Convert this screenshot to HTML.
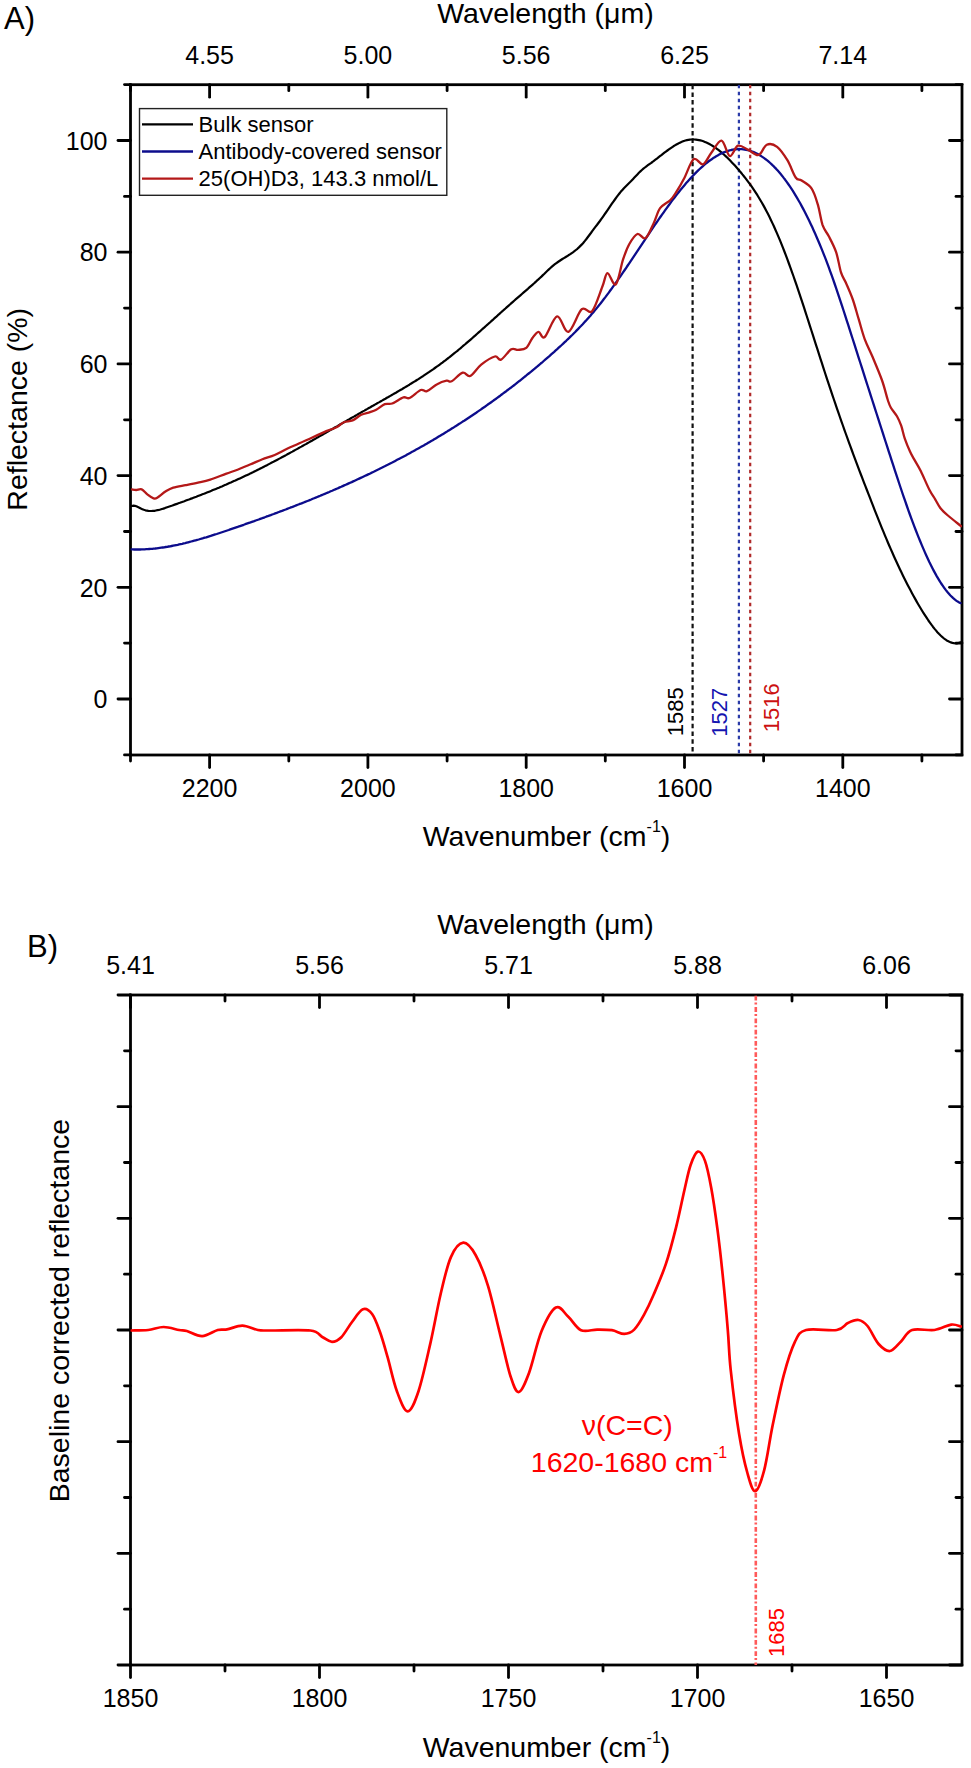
<!DOCTYPE html>
<html><head><meta charset="utf-8"><style>
html,body{margin:0;padding:0;background:#fff;}
svg{display:block;font-family:"Liberation Sans", sans-serif;}
</style></head><body>
<svg width="971" height="1768" viewBox="0 0 971 1768">
<defs>
<clipPath id="clipA"><rect x="130.5" y="84.7" width="831.5" height="670.3"/></clipPath>
<clipPath id="clipB"><rect x="130.5" y="995.0" width="831.5" height="670.0"/></clipPath>
</defs>
<rect width="971" height="1768" fill="#fff"/>
<rect x="130.5" y="84.7" width="831.5" height="670.3" fill="none" stroke="#000" stroke-width="2.8"/>
<line x1="130.5" y1="755.0" x2="130.5" y2="761.0" stroke="#000" stroke-width="2.8" stroke-linecap="round"/>
<line x1="130.5" y1="84.7" x2="130.5" y2="90.7" stroke="#000" stroke-width="2.8" stroke-linecap="round"/>
<line x1="209.6" y1="755.0" x2="209.6" y2="767.5" stroke="#000" stroke-width="2.8" stroke-linecap="round"/>
<line x1="209.6" y1="84.7" x2="209.6" y2="97.2" stroke="#000" stroke-width="2.8" stroke-linecap="round"/>
<line x1="288.8" y1="755.0" x2="288.8" y2="761.0" stroke="#000" stroke-width="2.8" stroke-linecap="round"/>
<line x1="288.8" y1="84.7" x2="288.8" y2="90.7" stroke="#000" stroke-width="2.8" stroke-linecap="round"/>
<line x1="367.9" y1="755.0" x2="367.9" y2="767.5" stroke="#000" stroke-width="2.8" stroke-linecap="round"/>
<line x1="367.9" y1="84.7" x2="367.9" y2="97.2" stroke="#000" stroke-width="2.8" stroke-linecap="round"/>
<line x1="447.1" y1="755.0" x2="447.1" y2="761.0" stroke="#000" stroke-width="2.8" stroke-linecap="round"/>
<line x1="447.1" y1="84.7" x2="447.1" y2="90.7" stroke="#000" stroke-width="2.8" stroke-linecap="round"/>
<line x1="526.2" y1="755.0" x2="526.2" y2="767.5" stroke="#000" stroke-width="2.8" stroke-linecap="round"/>
<line x1="526.2" y1="84.7" x2="526.2" y2="97.2" stroke="#000" stroke-width="2.8" stroke-linecap="round"/>
<line x1="605.3" y1="755.0" x2="605.3" y2="761.0" stroke="#000" stroke-width="2.8" stroke-linecap="round"/>
<line x1="605.3" y1="84.7" x2="605.3" y2="90.7" stroke="#000" stroke-width="2.8" stroke-linecap="round"/>
<line x1="684.5" y1="755.0" x2="684.5" y2="767.5" stroke="#000" stroke-width="2.8" stroke-linecap="round"/>
<line x1="684.5" y1="84.7" x2="684.5" y2="97.2" stroke="#000" stroke-width="2.8" stroke-linecap="round"/>
<line x1="763.6" y1="755.0" x2="763.6" y2="761.0" stroke="#000" stroke-width="2.8" stroke-linecap="round"/>
<line x1="763.6" y1="84.7" x2="763.6" y2="90.7" stroke="#000" stroke-width="2.8" stroke-linecap="round"/>
<line x1="842.8" y1="755.0" x2="842.8" y2="767.5" stroke="#000" stroke-width="2.8" stroke-linecap="round"/>
<line x1="842.8" y1="84.7" x2="842.8" y2="97.2" stroke="#000" stroke-width="2.8" stroke-linecap="round"/>
<line x1="921.9" y1="755.0" x2="921.9" y2="761.0" stroke="#000" stroke-width="2.8" stroke-linecap="round"/>
<line x1="921.9" y1="84.7" x2="921.9" y2="90.7" stroke="#000" stroke-width="2.8" stroke-linecap="round"/>
<line x1="124.5" y1="754.9" x2="130.5" y2="754.9" stroke="#000" stroke-width="2.8" stroke-linecap="round"/>
<line x1="956.0" y1="754.9" x2="962.0" y2="754.9" stroke="#000" stroke-width="2.8" stroke-linecap="round"/>
<line x1="118.0" y1="699.0" x2="130.5" y2="699.0" stroke="#000" stroke-width="2.8" stroke-linecap="round"/>
<line x1="949.5" y1="699.0" x2="962.0" y2="699.0" stroke="#000" stroke-width="2.8" stroke-linecap="round"/>
<line x1="124.5" y1="643.1" x2="130.5" y2="643.1" stroke="#000" stroke-width="2.8" stroke-linecap="round"/>
<line x1="956.0" y1="643.1" x2="962.0" y2="643.1" stroke="#000" stroke-width="2.8" stroke-linecap="round"/>
<line x1="118.0" y1="587.3" x2="130.5" y2="587.3" stroke="#000" stroke-width="2.8" stroke-linecap="round"/>
<line x1="949.5" y1="587.3" x2="962.0" y2="587.3" stroke="#000" stroke-width="2.8" stroke-linecap="round"/>
<line x1="124.5" y1="531.5" x2="130.5" y2="531.5" stroke="#000" stroke-width="2.8" stroke-linecap="round"/>
<line x1="956.0" y1="531.5" x2="962.0" y2="531.5" stroke="#000" stroke-width="2.8" stroke-linecap="round"/>
<line x1="118.0" y1="475.6" x2="130.5" y2="475.6" stroke="#000" stroke-width="2.8" stroke-linecap="round"/>
<line x1="949.5" y1="475.6" x2="962.0" y2="475.6" stroke="#000" stroke-width="2.8" stroke-linecap="round"/>
<line x1="124.5" y1="419.8" x2="130.5" y2="419.8" stroke="#000" stroke-width="2.8" stroke-linecap="round"/>
<line x1="956.0" y1="419.8" x2="962.0" y2="419.8" stroke="#000" stroke-width="2.8" stroke-linecap="round"/>
<line x1="118.0" y1="363.9" x2="130.5" y2="363.9" stroke="#000" stroke-width="2.8" stroke-linecap="round"/>
<line x1="949.5" y1="363.9" x2="962.0" y2="363.9" stroke="#000" stroke-width="2.8" stroke-linecap="round"/>
<line x1="124.5" y1="308.1" x2="130.5" y2="308.1" stroke="#000" stroke-width="2.8" stroke-linecap="round"/>
<line x1="956.0" y1="308.1" x2="962.0" y2="308.1" stroke="#000" stroke-width="2.8" stroke-linecap="round"/>
<line x1="118.0" y1="252.2" x2="130.5" y2="252.2" stroke="#000" stroke-width="2.8" stroke-linecap="round"/>
<line x1="949.5" y1="252.2" x2="962.0" y2="252.2" stroke="#000" stroke-width="2.8" stroke-linecap="round"/>
<line x1="124.5" y1="196.4" x2="130.5" y2="196.4" stroke="#000" stroke-width="2.8" stroke-linecap="round"/>
<line x1="956.0" y1="196.4" x2="962.0" y2="196.4" stroke="#000" stroke-width="2.8" stroke-linecap="round"/>
<line x1="118.0" y1="140.5" x2="130.5" y2="140.5" stroke="#000" stroke-width="2.8" stroke-linecap="round"/>
<line x1="949.5" y1="140.5" x2="962.0" y2="140.5" stroke="#000" stroke-width="2.8" stroke-linecap="round"/>
<line x1="124.5" y1="84.6" x2="130.5" y2="84.6" stroke="#000" stroke-width="2.8" stroke-linecap="round"/>
<line x1="956.0" y1="84.6" x2="962.0" y2="84.6" stroke="#000" stroke-width="2.8" stroke-linecap="round"/>
<text x="209.6" y="797.0" font-size="25" text-anchor="middle" fill="#000" >2200</text>
<text x="367.9" y="797.0" font-size="25" text-anchor="middle" fill="#000" >2000</text>
<text x="526.2" y="797.0" font-size="25" text-anchor="middle" fill="#000" >1800</text>
<text x="684.5" y="797.0" font-size="25" text-anchor="middle" fill="#000" >1600</text>
<text x="842.8" y="797.0" font-size="25" text-anchor="middle" fill="#000" >1400</text>
<text x="209.6" y="63.5" font-size="25" text-anchor="middle" fill="#000" >4.55</text>
<text x="367.9" y="63.5" font-size="25" text-anchor="middle" fill="#000" >5.00</text>
<text x="526.2" y="63.5" font-size="25" text-anchor="middle" fill="#000" >5.56</text>
<text x="684.5" y="63.5" font-size="25" text-anchor="middle" fill="#000" >6.25</text>
<text x="842.8" y="63.5" font-size="25" text-anchor="middle" fill="#000" >7.14</text>
<text x="107.5" y="708.2" font-size="25" text-anchor="end" fill="#000" >0</text>
<text x="107.5" y="596.5" font-size="25" text-anchor="end" fill="#000" >20</text>
<text x="107.5" y="484.8" font-size="25" text-anchor="end" fill="#000" >40</text>
<text x="107.5" y="373.1" font-size="25" text-anchor="end" fill="#000" >60</text>
<text x="107.5" y="261.4" font-size="25" text-anchor="end" fill="#000" >80</text>
<text x="107.5" y="149.7" font-size="25" text-anchor="end" fill="#000" >100</text>
<text x="545.5" y="22.8" font-size="28.5" text-anchor="middle" fill="#000" >Wavelength (μm)</text>
<text x="546.5" y="846.3" font-size="28.5" text-anchor="middle" fill="#000" >Wavenumber (cm<tspan font-size="16" dy="-14">-1</tspan><tspan dy="14">)</tspan></text>
<text x="0" y="0" font-size="28.5" text-anchor="middle" transform="translate(26.9,409.3) rotate(-90)">Reflectance (%)</text>
<text x="4.0" y="28.8" font-size="31" text-anchor="start" fill="#000" >A)</text>
<rect x="139.5" y="108.6" width="307.3" height="86.7" fill="#fff" stroke="#222" stroke-width="1.4"/>
<line x1="142.0" y1="124.4" x2="193.0" y2="124.4" stroke="#000" stroke-width="2.4" />
<text x="198.6" y="131.8" font-size="22" text-anchor="start" fill="#000" >Bulk sensor</text>
<line x1="142.0" y1="151.5" x2="193.0" y2="151.5" stroke="#0c0c8c" stroke-width="2.4" />
<text x="198.6" y="158.9" font-size="22" text-anchor="start" fill="#000" >Antibody-covered sensor</text>
<line x1="142.0" y1="178.6" x2="193.0" y2="178.6" stroke="#b41818" stroke-width="2.4" />
<text x="198.6" y="186.0" font-size="22" text-anchor="start" fill="#000" >25(OH)D3, 143.3 nmol/L</text>
<g clip-path="url(#clipA)">
<line x1="692.6" y1="84.7" x2="692.6" y2="755.0" stroke="#111" stroke-width="2.2" stroke-dasharray="4.5,3.2"/>
<line x1="738.9" y1="84.7" x2="738.9" y2="755.0" stroke="#2b3ba8" stroke-width="2.2" stroke-dasharray="3.5,3.5"/>
<line x1="750.2" y1="84.7" x2="750.2" y2="755.0" stroke="#b02a2a" stroke-width="2.2" stroke-dasharray="3.5,3.5"/>
</g>
<text x="0" y="0" font-size="22" fill="#000" transform="translate(683.3,736.2) rotate(-90)">1585</text>
<text x="0" y="0" font-size="22" fill="#1515b0" transform="translate(727.3,736.8) rotate(-90)">1527</text>
<text x="0" y="0" font-size="22" fill="#cc1111" transform="translate(779.2,732.2) rotate(-90)">1516</text>
<g clip-path="url(#clipA)" fill="none" stroke-linejoin="round" stroke-linecap="round">
<path d="M131.9,506.0 L133.4,505.7 L134.9,505.9 L136.4,506.3 L137.9,507.0 L139.4,507.7 L140.9,508.5 L142.4,509.2 L143.9,509.8 L145.4,510.3 L146.9,510.6 L148.4,510.9 L149.9,511.0 L151.4,511.0 L152.9,510.9 L154.4,510.8 L155.9,510.5 L157.4,510.2 L158.9,509.9 L160.4,509.5 L161.9,509.0 L163.4,508.6 L164.9,508.1 L166.4,507.5 L167.9,507.0 L169.4,506.5 L170.9,506.0 L172.4,505.5 L173.9,504.9 L175.4,504.4 L176.9,503.9 L178.4,503.3 L179.9,502.8 L181.4,502.2 L182.9,501.7 L184.4,501.2 L185.9,500.6 L187.4,500.0 L188.9,499.5 L190.4,498.9 L191.9,498.4 L193.4,497.8 L194.9,497.2 L196.4,496.7 L197.9,496.1 L199.4,495.5 L200.9,494.9 L202.4,494.3 L203.9,493.8 L205.4,493.2 L206.9,492.6 L208.4,492.0 L209.9,491.4 L211.4,490.8 L212.9,490.1 L214.4,489.5 L215.9,488.9 L217.4,488.3 L218.9,487.7 L220.4,487.0 L221.9,486.4 L223.4,485.7 L224.9,485.1 L226.4,484.5 L227.9,483.8 L229.4,483.1 L230.9,482.5 L232.4,481.8 L233.9,481.1 L235.4,480.5 L236.9,479.8 L238.4,479.1 L239.9,478.4 L241.4,477.7 L242.9,477.0 L244.4,476.3 L245.9,475.6 L247.4,474.9 L248.9,474.2 L250.4,473.4 L251.9,472.7 L253.4,472.0 L254.9,471.2 L256.4,470.5 L257.9,469.7 L259.4,469.0 L260.9,468.2 L262.4,467.5 L263.9,466.7 L265.4,465.9 L266.9,465.2 L268.4,464.4 L269.9,463.6 L271.4,462.8 L272.9,462.1 L274.4,461.3 L275.9,460.5 L277.4,459.7 L278.9,458.9 L280.4,458.1 L281.9,457.3 L283.4,456.5 L284.9,455.7 L286.4,454.9 L287.9,454.0 L289.4,453.2 L290.9,452.4 L292.4,451.6 L293.9,450.7 L295.4,449.9 L296.9,449.1 L298.4,448.3 L299.9,447.4 L301.4,446.6 L302.9,445.7 L304.4,444.9 L305.9,444.1 L307.4,443.2 L308.9,442.4 L310.4,441.5 L311.9,440.7 L313.4,439.8 L314.9,439.0 L316.4,438.1 L317.9,437.3 L319.4,436.4 L320.9,435.5 L322.4,434.7 L323.9,433.8 L325.4,433.0 L326.9,432.1 L328.4,431.2 L329.9,430.4 L331.4,429.5 L332.9,428.7 L334.4,427.8 L335.9,426.9 L337.4,426.1 L338.9,425.2 L340.4,424.3 L341.9,423.5 L343.4,422.6 L344.9,421.7 L346.4,420.9 L347.9,420.0 L349.4,419.2 L350.9,418.3 L352.4,417.4 L353.9,416.6 L355.4,415.7 L356.9,414.9 L358.4,414.0 L359.9,413.1 L361.4,412.3 L362.9,411.4 L364.4,410.6 L365.9,409.7 L367.4,408.9 L368.9,408.0 L370.4,407.2 L371.9,406.3 L373.4,405.5 L374.9,404.6 L376.4,403.8 L377.9,402.9 L379.4,402.1 L380.9,401.2 L382.4,400.4 L383.9,399.5 L385.4,398.7 L386.9,397.8 L388.4,397.0 L389.9,396.1 L391.4,395.3 L392.9,394.4 L394.4,393.5 L395.9,392.7 L397.4,391.8 L398.9,390.9 L400.4,390.0 L401.9,389.2 L403.4,388.3 L404.9,387.4 L406.4,386.5 L407.9,385.6 L409.4,384.7 L410.9,383.7 L412.4,382.8 L413.9,381.9 L415.4,381.0 L416.9,380.0 L418.4,379.1 L419.9,378.1 L421.4,377.1 L422.9,376.2 L424.4,375.2 L425.9,374.2 L427.4,373.2 L428.9,372.2 L430.4,371.1 L431.9,370.1 L433.4,369.1 L434.9,368.0 L436.4,366.9 L437.9,365.9 L439.4,364.8 L440.9,363.7 L442.4,362.6 L443.9,361.4 L445.4,360.3 L446.9,359.1 L448.4,358.0 L449.9,356.8 L451.4,355.6 L452.9,354.4 L454.4,353.2 L455.9,352.0 L457.4,350.8 L458.9,349.5 L460.4,348.3 L461.9,347.0 L463.4,345.7 L464.9,344.5 L466.4,343.2 L467.9,341.9 L469.4,340.6 L470.9,339.3 L472.4,338.0 L473.9,336.7 L475.4,335.4 L476.9,334.0 L478.4,332.7 L479.9,331.4 L481.4,330.0 L482.9,328.7 L484.4,327.4 L485.9,326.0 L487.4,324.7 L488.9,323.3 L490.4,322.0 L491.9,320.6 L493.4,319.3 L494.9,317.9 L496.4,316.6 L497.9,315.2 L499.4,313.9 L500.9,312.5 L502.4,311.2 L503.9,309.8 L505.4,308.5 L506.9,307.1 L508.4,305.8 L509.9,304.5 L511.4,303.1 L512.9,301.8 L514.4,300.5 L515.9,299.2 L517.4,297.9 L518.9,296.6 L520.4,295.3 L521.9,294.0 L523.4,292.7 L524.9,291.4 L526.4,290.1 L527.9,288.8 L529.4,287.4 L530.9,286.1 L532.4,284.8 L533.9,283.5 L535.4,282.1 L536.9,280.7 L538.4,279.4 L539.9,278.0 L541.4,276.6 L542.9,275.1 L544.4,273.7 L545.9,272.2 L547.4,270.8 L548.9,269.4 L550.4,268.0 L551.9,266.7 L553.4,265.4 L554.9,264.2 L556.4,263.1 L557.9,262.0 L559.4,261.0 L560.9,260.0 L562.4,259.0 L563.9,258.1 L565.4,257.2 L566.9,256.3 L568.4,255.3 L569.9,254.4 L571.4,253.3 L572.9,252.3 L574.4,251.2 L575.9,250.0 L577.4,248.8 L578.9,247.4 L580.4,245.9 L581.9,244.4 L583.4,242.7 L584.9,240.9 L586.4,239.0 L587.9,237.0 L589.4,235.0 L590.9,233.0 L592.4,230.9 L593.9,228.9 L595.4,226.9 L596.9,225.0 L598.4,223.0 L599.9,221.0 L601.4,218.9 L602.9,216.8 L604.4,214.6 L605.9,212.5 L607.4,210.3 L608.9,208.1 L610.4,205.9 L611.9,203.7 L613.4,201.6 L614.9,199.5 L616.4,197.4 L617.9,195.4 L619.4,193.5 L620.9,191.6 L622.4,189.9 L623.9,188.2 L625.4,186.7 L626.9,185.2 L628.4,183.7 L629.9,182.3 L631.4,180.8 L632.9,179.2 L634.4,177.6 L635.9,176.0 L637.4,174.4 L638.9,172.8 L640.4,171.4 L641.9,170.0 L643.4,168.7 L644.9,167.5 L646.4,166.3 L647.9,165.2 L649.4,164.1 L650.9,163.1 L652.4,162.0 L653.9,160.8 L655.4,159.7 L656.9,158.6 L658.4,157.4 L659.9,156.2 L661.4,155.1 L662.9,153.9 L664.4,152.7 L665.9,151.6 L667.4,150.5 L668.9,149.4 L670.4,148.3 L671.9,147.3 L673.4,146.3 L674.9,145.4 L676.4,144.5 L677.9,143.7 L679.4,142.9 L680.9,142.2 L682.4,141.6 L683.9,141.0 L685.4,140.5 L686.9,140.1 L688.4,139.8 L689.9,139.6 L691.4,139.5 L692.9,139.4 L694.4,139.5 L695.9,139.6 L697.4,139.8 L698.9,140.1 L700.4,140.4 L701.9,140.8 L703.4,141.3 L704.9,141.9 L706.4,142.5 L707.9,143.2 L709.4,144.0 L710.9,144.9 L712.4,145.8 L713.9,146.7 L715.4,147.7 L716.9,148.8 L718.4,149.9 L719.9,151.1 L721.4,152.4 L722.9,153.7 L724.4,155.0 L725.9,156.4 L727.4,157.8 L728.9,159.3 L730.4,160.8 L731.9,162.4 L733.4,164.0 L734.9,165.6 L736.4,167.3 L737.9,169.0 L739.4,170.8 L740.9,172.5 L742.4,174.4 L743.9,176.2 L745.4,178.1 L746.9,180.1 L748.4,182.1 L749.9,184.1 L751.4,186.2 L752.9,188.4 L754.4,190.6 L755.9,192.9 L757.4,195.2 L758.9,197.7 L760.4,200.2 L761.9,202.7 L763.4,205.4 L764.9,208.1 L766.4,210.9 L767.9,213.8 L769.4,216.8 L770.9,219.9 L772.4,223.1 L773.9,226.3 L775.4,229.7 L776.9,233.1 L778.4,236.6 L779.9,240.2 L781.4,243.9 L782.9,247.7 L784.4,251.5 L785.9,255.4 L787.4,259.4 L788.9,263.5 L790.4,267.6 L791.9,271.8 L793.4,276.0 L794.9,280.3 L796.4,284.7 L797.9,289.1 L799.4,293.6 L800.9,298.1 L802.4,302.6 L803.9,307.2 L805.4,311.8 L806.9,316.5 L808.4,321.1 L809.9,325.8 L811.4,330.5 L812.9,335.2 L814.4,339.9 L815.9,344.6 L817.4,349.2 L818.9,353.9 L820.4,358.6 L821.9,363.2 L823.4,367.9 L824.9,372.5 L826.4,377.1 L827.9,381.6 L829.4,386.1 L830.9,390.6 L832.4,395.1 L833.9,399.5 L835.4,403.9 L836.9,408.3 L838.4,412.6 L839.9,417.0 L841.4,421.3 L842.9,425.5 L844.4,429.8 L845.9,434.0 L847.4,438.1 L848.9,442.3 L850.4,446.4 L851.9,450.5 L853.4,454.6 L854.9,458.6 L856.4,462.6 L857.9,466.6 L859.4,470.6 L860.9,474.5 L862.4,478.4 L863.9,482.3 L865.4,486.1 L866.9,490.0 L868.4,493.8 L869.9,497.7 L871.4,501.6 L872.9,505.4 L874.4,509.3 L875.9,513.1 L877.4,516.9 L878.9,520.6 L880.4,524.4 L881.9,528.1 L883.4,531.7 L884.9,535.4 L886.4,538.9 L887.9,542.5 L889.4,546.0 L890.9,549.4 L892.4,552.8 L893.9,556.2 L895.4,559.5 L896.9,562.8 L898.4,566.0 L899.9,569.2 L901.4,572.3 L902.9,575.4 L904.4,578.4 L905.9,581.4 L907.4,584.4 L908.9,587.3 L910.4,590.1 L911.9,592.9 L913.4,595.7 L914.9,598.4 L916.4,601.1 L917.9,603.7 L919.4,606.2 L920.9,608.7 L922.4,611.2 L923.9,613.6 L925.4,615.9 L926.9,618.2 L928.4,620.5 L929.9,622.6 L931.4,624.7 L932.9,626.7 L934.4,628.6 L935.9,630.4 L937.4,632.2 L938.9,633.8 L940.4,635.3 L941.9,636.7 L943.4,638.0 L944.9,639.2 L946.4,640.2 L947.9,641.1 L949.4,641.8 L950.9,642.4 L952.4,642.9 L953.9,643.2 L955.4,643.3 L956.9,643.3 L958.4,643.0 L959.9,642.6 L960.6,642.4" stroke="#000" stroke-width="2.2"/>
<path d="M131.2,549.4 L132.7,549.4 L134.2,549.5 L135.7,549.5 L137.2,549.5 L138.7,549.5 L140.2,549.5 L141.7,549.4 L143.2,549.4 L144.7,549.3 L146.2,549.2 L147.7,549.1 L149.2,549.0 L150.7,548.9 L152.2,548.8 L153.7,548.6 L155.2,548.5 L156.7,548.3 L158.2,548.1 L159.7,547.9 L161.2,547.7 L162.7,547.5 L164.2,547.3 L165.7,547.0 L167.2,546.8 L168.7,546.5 L170.2,546.3 L171.7,546.0 L173.2,545.7 L174.7,545.4 L176.2,545.1 L177.7,544.8 L179.2,544.4 L180.7,544.1 L182.2,543.8 L183.7,543.4 L185.2,543.1 L186.7,542.7 L188.2,542.3 L189.7,541.9 L191.2,541.5 L192.7,541.1 L194.2,540.7 L195.7,540.3 L197.2,539.9 L198.7,539.5 L200.2,539.0 L201.7,538.6 L203.2,538.2 L204.7,537.7 L206.2,537.3 L207.7,536.8 L209.2,536.3 L210.7,535.9 L212.2,535.4 L213.7,534.9 L215.2,534.4 L216.7,534.0 L218.2,533.5 L219.7,533.0 L221.2,532.5 L222.7,532.0 L224.2,531.5 L225.7,531.0 L227.2,530.5 L228.7,530.0 L230.2,529.4 L231.7,528.9 L233.2,528.4 L234.7,527.9 L236.2,527.4 L237.7,526.9 L239.2,526.3 L240.7,525.8 L242.2,525.3 L243.7,524.8 L245.2,524.2 L246.7,523.7 L248.2,523.2 L249.7,522.7 L251.2,522.1 L252.7,521.6 L254.2,521.1 L255.7,520.5 L257.2,520.0 L258.7,519.5 L260.2,518.9 L261.7,518.4 L263.2,517.8 L264.7,517.3 L266.2,516.7 L267.7,516.2 L269.2,515.6 L270.7,515.1 L272.2,514.5 L273.7,514.0 L275.2,513.4 L276.7,512.9 L278.2,512.3 L279.7,511.7 L281.2,511.2 L282.7,510.6 L284.2,510.0 L285.7,509.5 L287.2,508.9 L288.7,508.3 L290.2,507.7 L291.7,507.2 L293.2,506.6 L294.7,506.0 L296.2,505.4 L297.7,504.8 L299.2,504.2 L300.7,503.7 L302.2,503.1 L303.7,502.5 L305.2,501.9 L306.7,501.3 L308.2,500.7 L309.7,500.1 L311.2,499.5 L312.7,498.8 L314.2,498.2 L315.7,497.6 L317.2,497.0 L318.7,496.4 L320.2,495.8 L321.7,495.1 L323.2,494.5 L324.7,493.9 L326.2,493.2 L327.7,492.6 L329.2,492.0 L330.7,491.3 L332.2,490.7 L333.7,490.0 L335.2,489.4 L336.7,488.7 L338.2,488.1 L339.7,487.4 L341.2,486.8 L342.7,486.1 L344.2,485.4 L345.7,484.8 L347.2,484.1 L348.7,483.4 L350.2,482.7 L351.7,482.1 L353.2,481.4 L354.7,480.7 L356.2,480.0 L357.7,479.3 L359.2,478.6 L360.7,477.9 L362.2,477.2 L363.7,476.5 L365.2,475.8 L366.7,475.1 L368.2,474.4 L369.7,473.7 L371.2,472.9 L372.7,472.2 L374.2,471.5 L375.7,470.7 L377.2,470.0 L378.7,469.3 L380.2,468.5 L381.7,467.8 L383.2,467.0 L384.7,466.3 L386.2,465.5 L387.7,464.8 L389.2,464.0 L390.7,463.2 L392.2,462.5 L393.7,461.7 L395.2,460.9 L396.7,460.1 L398.2,459.3 L399.7,458.6 L401.2,457.8 L402.7,457.0 L404.2,456.2 L405.7,455.4 L407.2,454.5 L408.7,453.7 L410.2,452.9 L411.7,452.1 L413.2,451.3 L414.7,450.4 L416.2,449.6 L417.7,448.8 L419.2,447.9 L420.7,447.1 L422.2,446.2 L423.7,445.4 L425.2,444.5 L426.7,443.7 L428.2,442.8 L429.7,441.9 L431.2,441.0 L432.7,440.2 L434.2,439.3 L435.7,438.4 L437.2,437.5 L438.7,436.6 L440.2,435.7 L441.7,434.8 L443.2,433.9 L444.7,433.0 L446.2,432.1 L447.7,431.1 L449.2,430.2 L450.7,429.3 L452.2,428.3 L453.7,427.4 L455.2,426.4 L456.7,425.5 L458.2,424.5 L459.7,423.6 L461.2,422.6 L462.7,421.6 L464.2,420.7 L465.7,419.7 L467.2,418.7 L468.7,417.7 L470.2,416.7 L471.7,415.7 L473.2,414.7 L474.7,413.7 L476.2,412.7 L477.7,411.6 L479.2,410.6 L480.7,409.6 L482.2,408.5 L483.7,407.5 L485.2,406.5 L486.7,405.4 L488.2,404.3 L489.7,403.3 L491.2,402.2 L492.7,401.1 L494.2,400.0 L495.7,399.0 L497.2,397.9 L498.7,396.8 L500.2,395.7 L501.7,394.5 L503.2,393.4 L504.7,392.3 L506.2,391.2 L507.7,390.0 L509.2,388.9 L510.7,387.8 L512.2,386.6 L513.7,385.5 L515.2,384.3 L516.7,383.1 L518.2,381.9 L519.7,380.8 L521.2,379.6 L522.7,378.4 L524.2,377.2 L525.7,376.0 L527.2,374.7 L528.7,373.5 L530.2,372.3 L531.7,371.1 L533.2,369.8 L534.7,368.6 L536.2,367.3 L537.7,366.1 L539.2,364.8 L540.7,363.5 L542.2,362.3 L543.7,361.0 L545.2,359.7 L546.7,358.4 L548.2,357.1 L549.7,355.8 L551.2,354.4 L552.7,353.1 L554.2,351.8 L555.7,350.4 L557.2,349.1 L558.7,347.7 L560.2,346.3 L561.7,345.0 L563.2,343.6 L564.7,342.2 L566.2,340.8 L567.7,339.3 L569.2,337.9 L570.7,336.4 L572.2,335.0 L573.7,333.5 L575.2,332.0 L576.7,330.4 L578.2,328.9 L579.7,327.3 L581.2,325.8 L582.7,324.2 L584.2,322.5 L585.7,320.9 L587.2,319.2 L588.7,317.6 L590.2,315.9 L591.7,314.1 L593.2,312.4 L594.7,310.6 L596.2,308.8 L597.7,306.9 L599.2,305.1 L600.7,303.2 L602.2,301.3 L603.7,299.3 L605.2,297.4 L606.7,295.4 L608.2,293.4 L609.7,291.3 L611.2,289.3 L612.7,287.2 L614.2,285.1 L615.7,283.0 L617.2,280.9 L618.7,278.7 L620.2,276.5 L621.7,274.4 L623.2,272.2 L624.7,270.0 L626.2,267.8 L627.7,265.5 L629.2,263.3 L630.7,261.1 L632.2,258.8 L633.7,256.6 L635.2,254.3 L636.7,252.1 L638.2,249.8 L639.7,247.6 L641.2,245.3 L642.7,243.1 L644.2,240.8 L645.7,238.6 L647.2,236.3 L648.7,234.1 L650.2,231.9 L651.7,229.6 L653.2,227.4 L654.7,225.2 L656.2,223.0 L657.7,220.8 L659.2,218.7 L660.7,216.5 L662.2,214.4 L663.7,212.3 L665.2,210.2 L666.7,208.1 L668.2,206.0 L669.7,204.0 L671.2,201.9 L672.7,199.9 L674.2,198.0 L675.7,196.0 L677.2,194.1 L678.7,192.2 L680.2,190.3 L681.7,188.5 L683.2,186.7 L684.7,184.9 L686.2,183.1 L687.7,181.4 L689.2,179.7 L690.7,178.1 L692.2,176.5 L693.7,174.9 L695.2,173.4 L696.7,171.9 L698.2,170.4 L699.7,169.0 L701.2,167.6 L702.7,166.3 L704.2,165.0 L705.7,163.7 L707.2,162.5 L708.7,161.3 L710.2,160.2 L711.7,159.2 L713.2,158.1 L714.7,157.2 L716.2,156.2 L717.7,155.4 L719.2,154.6 L720.7,153.8 L722.2,153.1 L723.7,152.4 L725.2,151.8 L726.7,151.3 L728.2,150.8 L729.7,150.4 L731.2,150.0 L732.7,149.7 L734.2,149.5 L735.7,149.3 L737.2,149.2 L738.7,149.1 L740.2,149.1 L741.7,149.2 L743.2,149.3 L744.7,149.5 L746.2,149.8 L747.7,150.1 L749.2,150.5 L750.7,151.0 L752.2,151.5 L753.7,152.1 L755.2,152.8 L756.7,153.5 L758.2,154.3 L759.7,155.2 L761.2,156.1 L762.7,157.1 L764.2,158.1 L765.7,159.3 L767.2,160.4 L768.7,161.7 L770.2,163.0 L771.7,164.4 L773.2,165.8 L774.7,167.4 L776.2,168.9 L777.7,170.6 L779.2,172.3 L780.7,174.1 L782.2,175.9 L783.7,177.9 L785.2,179.8 L786.7,181.9 L788.2,184.0 L789.7,186.2 L791.2,188.4 L792.7,190.7 L794.2,193.1 L795.7,195.6 L797.2,198.1 L798.7,200.7 L800.2,203.3 L801.7,206.1 L803.2,208.9 L804.7,211.7 L806.2,214.7 L807.7,217.7 L809.2,220.7 L810.7,223.9 L812.2,227.1 L813.7,230.4 L815.2,233.7 L816.7,237.2 L818.2,240.7 L819.7,244.2 L821.2,247.9 L822.7,251.6 L824.2,255.4 L825.7,259.2 L827.2,263.2 L828.7,267.2 L830.2,271.3 L831.7,275.4 L833.2,279.7 L834.7,284.0 L836.2,288.3 L837.7,292.8 L839.2,297.3 L840.7,301.8 L842.2,306.4 L843.7,311.0 L845.2,315.6 L846.7,320.3 L848.2,324.9 L849.7,329.6 L851.2,334.3 L852.7,339.0 L854.2,343.6 L855.7,348.3 L857.2,353.1 L858.7,357.8 L860.2,362.5 L861.7,367.2 L863.2,371.9 L864.7,376.6 L866.2,381.3 L867.7,386.0 L869.2,390.6 L870.7,395.3 L872.2,400.0 L873.7,404.7 L875.2,409.4 L876.7,414.0 L878.2,418.7 L879.7,423.4 L881.2,428.0 L882.7,432.7 L884.2,437.3 L885.7,442.0 L887.2,446.6 L888.7,451.3 L890.2,455.9 L891.7,460.6 L893.2,465.2 L894.7,469.8 L896.2,474.4 L897.7,478.9 L899.2,483.5 L900.7,488.0 L902.2,492.5 L903.7,496.9 L905.2,501.2 L906.7,505.5 L908.2,509.8 L909.7,514.0 L911.2,518.1 L912.7,522.1 L914.2,526.1 L915.7,530.0 L917.2,533.9 L918.7,537.6 L920.2,541.3 L921.7,544.9 L923.2,548.4 L924.7,551.9 L926.2,555.2 L927.7,558.5 L929.2,561.7 L930.7,564.7 L932.2,567.7 L933.7,570.6 L935.2,573.4 L936.7,576.1 L938.2,578.6 L939.7,581.1 L941.2,583.5 L942.7,585.7 L944.2,587.8 L945.7,589.9 L947.2,591.8 L948.7,593.5 L950.2,595.2 L951.7,596.7 L953.2,598.1 L954.7,599.4 L956.2,600.6 L957.7,601.6 L959.2,602.5 L960.6,603.1" stroke="#0c0c8c" stroke-width="2.3"/>
<path d="M131.9,489.4 C132.6,489.5 134.6,490.0 136.2,490.0 C137.8,490.0 139.8,488.7 141.7,489.4 C143.5,490.1 145.3,492.9 147.3,494.4 C149.3,495.9 151.8,497.7 153.5,498.3 C155.2,498.9 155.1,499.0 157.2,497.8 C159.2,496.6 163.1,493.0 165.8,491.3 C168.5,489.6 170.0,488.6 173.3,487.6 C176.6,486.6 181.5,485.9 185.6,485.1 C189.7,484.3 193.9,483.5 198.0,482.6 C202.1,481.7 205.6,481.1 210.3,479.6 C215.0,478.1 221.9,475.2 226.4,473.6 C230.9,472.0 233.6,471.2 237.5,469.7 C241.4,468.2 245.8,466.2 250.0,464.5 C254.2,462.8 258.3,460.9 262.4,459.3 C266.5,457.7 270.6,456.8 274.7,455.0 C278.8,453.2 283.0,450.8 287.1,448.8 C291.2,446.9 295.3,445.2 299.4,443.3 C303.5,441.4 307.7,439.6 311.8,437.7 C315.9,435.8 320.1,433.9 324.2,432.1 C328.3,430.4 333.2,428.9 336.5,427.2 C339.8,425.5 341.2,423.3 343.9,422.2 C346.6,421.1 349.7,421.6 352.6,420.4 C355.5,419.2 358.3,416.2 361.2,414.8 C364.1,413.4 367.5,413.1 370.0,412.2 C372.5,411.3 373.7,411.0 376.2,409.7 C378.7,408.4 382.1,405.2 384.8,404.2 C387.5,403.2 389.1,404.6 392.2,403.5 C395.3,402.4 400.5,398.3 403.4,397.4 C406.3,396.5 406.7,399.2 409.6,398.0 C412.5,396.8 417.8,391.1 420.7,390.0 C423.6,388.9 424.2,392.1 426.9,391.2 C429.6,390.3 433.4,386.1 436.7,384.4 C440.0,382.6 444.1,381.2 446.6,380.7 C449.1,380.2 448.9,382.6 451.6,381.3 C454.3,380.0 459.6,373.5 462.7,372.6 C465.8,371.7 467.0,377.3 470.1,376.0 C473.2,374.7 477.1,367.9 481.2,364.6 C485.3,361.4 491.5,357.3 494.8,356.5 C498.1,355.7 498.2,360.8 501.0,359.6 C503.8,358.4 508.4,350.9 511.3,349.3 C514.1,347.7 515.6,350.1 518.1,349.9 C520.6,349.6 523.9,349.8 526.3,347.8 C528.7,345.8 530.4,340.7 532.4,338.0 C534.4,335.3 536.5,332.0 538.5,331.8 C540.5,331.6 541.6,339.6 544.7,337.0 C547.8,334.4 553.2,317.3 557.1,316.4 C561.0,315.5 564.3,333.0 568.4,331.8 C572.5,330.6 577.8,312.6 581.8,309.2 C585.8,305.8 588.7,315.0 592.1,311.2 C595.5,307.4 599.8,292.9 602.4,286.5 C605.0,280.1 605.3,273.5 607.5,273.1 C609.7,272.8 613.2,286.6 615.8,284.4 C618.4,282.2 620.8,266.4 623.0,259.7 C625.2,253.0 626.8,248.6 629.2,244.3 C631.6,240.0 634.7,235.0 637.4,234.0 C640.1,233.0 642.9,240.0 645.6,238.1 C648.4,236.2 651.5,227.7 653.9,222.7 C656.3,217.7 657.4,212.0 660.1,208.2 C662.9,204.4 667.7,202.7 670.4,200.0 C673.1,197.3 673.9,195.8 676.2,192.1 C678.6,188.4 681.6,183.2 684.5,177.7 C687.4,172.2 690.6,161.3 693.7,159.1 C696.8,156.9 700.1,165.3 703.0,164.3 C705.9,163.3 708.1,156.9 711.2,153.0 C714.3,149.1 718.4,140.1 721.5,140.6 C724.6,141.1 727.0,155.2 729.8,156.0 C732.5,156.8 734.9,146.7 738.0,145.7 C741.1,144.7 744.9,148.3 748.3,149.9 C751.7,151.5 755.5,155.9 758.6,155.0 C761.7,154.1 763.7,146.1 766.8,144.7 C769.9,143.3 773.7,144.2 777.1,146.8 C780.5,149.4 784.3,155.1 787.4,160.2 C790.5,165.3 793.3,174.1 795.7,177.5 C798.1,180.9 799.0,178.7 801.6,180.5 C804.2,182.3 808.8,184.5 811.5,188.4 C814.2,192.3 815.9,198.1 817.7,204.2 C819.6,210.3 820.8,219.8 822.6,225.2 C824.5,230.5 826.5,231.8 828.8,236.3 C831.1,240.8 834.2,246.4 836.2,252.4 C838.2,258.4 839.4,267.3 841.0,272.4 C842.6,277.5 844.0,278.5 846.0,283.0 C848.0,287.5 850.7,293.5 852.8,299.5 C854.9,305.5 856.7,312.6 858.7,319.2 C860.7,325.8 862.3,332.6 864.6,338.8 C866.9,345.0 869.5,349.6 872.4,356.5 C875.3,363.4 879.3,372.8 881.9,380.0 C884.5,387.2 886.3,395.4 887.8,400.0 C889.3,404.6 889.3,404.9 890.9,407.7 C892.5,410.4 895.4,413.5 897.1,416.5 C898.8,419.5 899.9,422.0 901.2,425.7 C902.5,429.4 903.3,434.3 904.8,438.6 C906.3,442.9 908.4,448.0 910.0,451.5 C911.6,455.0 912.4,456.1 914.2,459.4 C916.0,462.7 918.5,466.4 921.0,471.5 C923.5,476.6 927.1,485.4 929.5,490.0 C931.9,494.6 933.4,496.3 935.2,499.3 C937.0,502.3 938.2,505.3 940.3,508.0 C942.4,510.7 944.4,512.5 947.9,515.5 C951.4,518.5 958.9,524.4 961.1,526.2" stroke="#b41818" stroke-width="2.3"/>
</g>
<rect x="130.5" y="995.0" width="831.5" height="670.0" fill="none" stroke="#000" stroke-width="2.8"/>
<line x1="130.5" y1="1665.0" x2="130.5" y2="1677.5" stroke="#000" stroke-width="2.8" stroke-linecap="round"/>
<line x1="130.5" y1="995.0" x2="130.5" y2="1007.5" stroke="#000" stroke-width="2.8" stroke-linecap="round"/>
<line x1="225.0" y1="1665.0" x2="225.0" y2="1671.0" stroke="#000" stroke-width="2.8" stroke-linecap="round"/>
<line x1="225.0" y1="995.0" x2="225.0" y2="1001.0" stroke="#000" stroke-width="2.8" stroke-linecap="round"/>
<line x1="319.5" y1="1665.0" x2="319.5" y2="1677.5" stroke="#000" stroke-width="2.8" stroke-linecap="round"/>
<line x1="319.5" y1="995.0" x2="319.5" y2="1007.5" stroke="#000" stroke-width="2.8" stroke-linecap="round"/>
<line x1="414.0" y1="1665.0" x2="414.0" y2="1671.0" stroke="#000" stroke-width="2.8" stroke-linecap="round"/>
<line x1="414.0" y1="995.0" x2="414.0" y2="1001.0" stroke="#000" stroke-width="2.8" stroke-linecap="round"/>
<line x1="508.5" y1="1665.0" x2="508.5" y2="1677.5" stroke="#000" stroke-width="2.8" stroke-linecap="round"/>
<line x1="508.5" y1="995.0" x2="508.5" y2="1007.5" stroke="#000" stroke-width="2.8" stroke-linecap="round"/>
<line x1="603.0" y1="1665.0" x2="603.0" y2="1671.0" stroke="#000" stroke-width="2.8" stroke-linecap="round"/>
<line x1="603.0" y1="995.0" x2="603.0" y2="1001.0" stroke="#000" stroke-width="2.8" stroke-linecap="round"/>
<line x1="697.5" y1="1665.0" x2="697.5" y2="1677.5" stroke="#000" stroke-width="2.8" stroke-linecap="round"/>
<line x1="697.5" y1="995.0" x2="697.5" y2="1007.5" stroke="#000" stroke-width="2.8" stroke-linecap="round"/>
<line x1="792.0" y1="1665.0" x2="792.0" y2="1671.0" stroke="#000" stroke-width="2.8" stroke-linecap="round"/>
<line x1="792.0" y1="995.0" x2="792.0" y2="1001.0" stroke="#000" stroke-width="2.8" stroke-linecap="round"/>
<line x1="886.5" y1="1665.0" x2="886.5" y2="1677.5" stroke="#000" stroke-width="2.8" stroke-linecap="round"/>
<line x1="886.5" y1="995.0" x2="886.5" y2="1007.5" stroke="#000" stroke-width="2.8" stroke-linecap="round"/>
<line x1="118.0" y1="995.0" x2="130.5" y2="995.0" stroke="#000" stroke-width="2.8" stroke-linecap="round"/>
<line x1="949.5" y1="995.0" x2="962.0" y2="995.0" stroke="#000" stroke-width="2.8" stroke-linecap="round"/>
<line x1="124.5" y1="1050.8" x2="130.5" y2="1050.8" stroke="#000" stroke-width="2.8" stroke-linecap="round"/>
<line x1="956.0" y1="1050.8" x2="962.0" y2="1050.8" stroke="#000" stroke-width="2.8" stroke-linecap="round"/>
<line x1="118.0" y1="1106.7" x2="130.5" y2="1106.7" stroke="#000" stroke-width="2.8" stroke-linecap="round"/>
<line x1="949.5" y1="1106.7" x2="962.0" y2="1106.7" stroke="#000" stroke-width="2.8" stroke-linecap="round"/>
<line x1="124.5" y1="1162.5" x2="130.5" y2="1162.5" stroke="#000" stroke-width="2.8" stroke-linecap="round"/>
<line x1="956.0" y1="1162.5" x2="962.0" y2="1162.5" stroke="#000" stroke-width="2.8" stroke-linecap="round"/>
<line x1="118.0" y1="1218.3" x2="130.5" y2="1218.3" stroke="#000" stroke-width="2.8" stroke-linecap="round"/>
<line x1="949.5" y1="1218.3" x2="962.0" y2="1218.3" stroke="#000" stroke-width="2.8" stroke-linecap="round"/>
<line x1="124.5" y1="1274.2" x2="130.5" y2="1274.2" stroke="#000" stroke-width="2.8" stroke-linecap="round"/>
<line x1="956.0" y1="1274.2" x2="962.0" y2="1274.2" stroke="#000" stroke-width="2.8" stroke-linecap="round"/>
<line x1="118.0" y1="1330.0" x2="130.5" y2="1330.0" stroke="#000" stroke-width="2.8" stroke-linecap="round"/>
<line x1="949.5" y1="1330.0" x2="962.0" y2="1330.0" stroke="#000" stroke-width="2.8" stroke-linecap="round"/>
<line x1="124.5" y1="1385.8" x2="130.5" y2="1385.8" stroke="#000" stroke-width="2.8" stroke-linecap="round"/>
<line x1="956.0" y1="1385.8" x2="962.0" y2="1385.8" stroke="#000" stroke-width="2.8" stroke-linecap="round"/>
<line x1="118.0" y1="1441.7" x2="130.5" y2="1441.7" stroke="#000" stroke-width="2.8" stroke-linecap="round"/>
<line x1="949.5" y1="1441.7" x2="962.0" y2="1441.7" stroke="#000" stroke-width="2.8" stroke-linecap="round"/>
<line x1="124.5" y1="1497.5" x2="130.5" y2="1497.5" stroke="#000" stroke-width="2.8" stroke-linecap="round"/>
<line x1="956.0" y1="1497.5" x2="962.0" y2="1497.5" stroke="#000" stroke-width="2.8" stroke-linecap="round"/>
<line x1="118.0" y1="1553.3" x2="130.5" y2="1553.3" stroke="#000" stroke-width="2.8" stroke-linecap="round"/>
<line x1="949.5" y1="1553.3" x2="962.0" y2="1553.3" stroke="#000" stroke-width="2.8" stroke-linecap="round"/>
<line x1="124.5" y1="1609.2" x2="130.5" y2="1609.2" stroke="#000" stroke-width="2.8" stroke-linecap="round"/>
<line x1="956.0" y1="1609.2" x2="962.0" y2="1609.2" stroke="#000" stroke-width="2.8" stroke-linecap="round"/>
<line x1="118.0" y1="1665.0" x2="130.5" y2="1665.0" stroke="#000" stroke-width="2.8" stroke-linecap="round"/>
<line x1="949.5" y1="1665.0" x2="962.0" y2="1665.0" stroke="#000" stroke-width="2.8" stroke-linecap="round"/>
<text x="130.5" y="1707.0" font-size="25" text-anchor="middle" fill="#000" >1850</text>
<text x="319.5" y="1707.0" font-size="25" text-anchor="middle" fill="#000" >1800</text>
<text x="508.5" y="1707.0" font-size="25" text-anchor="middle" fill="#000" >1750</text>
<text x="697.5" y="1707.0" font-size="25" text-anchor="middle" fill="#000" >1700</text>
<text x="886.5" y="1707.0" font-size="25" text-anchor="middle" fill="#000" >1650</text>
<text x="130.5" y="973.7" font-size="25" text-anchor="middle" fill="#000" >5.41</text>
<text x="319.5" y="973.7" font-size="25" text-anchor="middle" fill="#000" >5.56</text>
<text x="508.5" y="973.7" font-size="25" text-anchor="middle" fill="#000" >5.71</text>
<text x="697.5" y="973.7" font-size="25" text-anchor="middle" fill="#000" >5.88</text>
<text x="886.5" y="973.7" font-size="25" text-anchor="middle" fill="#000" >6.06</text>
<text x="545.5" y="933.8" font-size="28.5" text-anchor="middle" fill="#000" >Wavelength (μm)</text>
<text x="546.5" y="1757.2" font-size="28.5" text-anchor="middle" fill="#000" >Wavenumber (cm<tspan font-size="16" dy="-14">-1</tspan><tspan dy="14">)</tspan></text>
<text x="0" y="0" font-size="28.5" text-anchor="middle" transform="translate(69.3,1310.6) rotate(-90)">Baseline corrected reflectance</text>
<text x="27.0" y="957.0" font-size="31" text-anchor="start" fill="#000" >B)</text>
<g clip-path="url(#clipB)">
<line x1="755.8" y1="995.0" x2="755.8" y2="1665.0" stroke="#ff5a5a" stroke-width="2.6" stroke-dasharray="4.8,2.0,2.0,2.5" stroke-dashoffset="-0.8"/>
</g>
<g clip-path="url(#clipB)" fill="none" stroke-linejoin="round" stroke-linecap="round">
<path d="M131.2,1330.5 C134.0,1330.4 142.8,1330.6 148.2,1330.0 C153.6,1329.4 158.4,1327.0 163.6,1327.0 C168.8,1327.0 175.2,1329.3 179.1,1330.0 C183.0,1330.7 183.0,1330.0 186.8,1331.0 C190.7,1332.0 197.0,1336.4 202.2,1336.2 C207.3,1336.0 213.6,1331.1 217.7,1330.0 C221.8,1328.9 222.9,1330.1 227.0,1329.4 C231.1,1328.7 237.3,1325.6 242.4,1325.7 C247.5,1325.8 253.2,1329.2 257.8,1330.0 C262.4,1330.8 261.2,1330.4 270.0,1330.5 C278.8,1330.6 301.6,1329.4 310.4,1330.5 C319.2,1331.6 319.1,1335.3 322.7,1337.2 C326.3,1339.1 328.9,1341.8 332.0,1341.8 C335.1,1341.8 338.0,1340.5 341.3,1337.2 C344.6,1333.9 348.4,1326.7 352.0,1322.0 C355.6,1317.3 359.5,1310.6 362.9,1309.3 C366.2,1308.0 369.2,1310.2 372.1,1314.0 C375.0,1317.8 377.4,1324.8 380.0,1332.0 C382.6,1339.2 384.8,1347.3 387.6,1357.2 C390.4,1367.1 393.5,1382.2 396.9,1391.2 C400.2,1400.2 404.1,1411.3 407.7,1411.3 C411.3,1411.3 414.7,1402.5 418.5,1391.2 C422.3,1379.9 426.6,1359.8 430.3,1343.6 C434.0,1327.4 437.2,1308.6 440.6,1294.2 C444.0,1279.8 447.1,1265.7 450.9,1257.1 C454.7,1248.5 459.2,1243.0 463.3,1242.7 C467.4,1242.4 471.5,1247.8 475.6,1255.0 C479.7,1262.2 483.9,1272.5 488.0,1285.9 C492.1,1299.3 496.5,1320.2 500.3,1335.3 C504.1,1350.4 507.5,1367.0 510.6,1376.5 C513.7,1386.0 515.8,1392.7 518.9,1392.0 C522.0,1391.3 525.4,1382.5 529.2,1372.4 C533.0,1362.3 537.0,1342.0 541.5,1331.2 C546.0,1320.4 551.4,1309.9 555.9,1307.5 C560.4,1305.1 564.1,1313.0 568.3,1316.8 C572.5,1320.6 576.2,1328.1 581.0,1330.2 C585.8,1332.3 592.0,1329.6 597.1,1329.6 C602.2,1329.6 607.4,1329.5 611.9,1330.2 C616.4,1330.9 620.6,1334.0 624.3,1333.9 C628.0,1333.8 630.9,1332.8 634.2,1329.6 C637.5,1326.4 640.9,1320.5 644.1,1314.7 C647.3,1308.9 650.0,1303.3 653.6,1294.8 C657.2,1286.3 662.1,1275.2 665.9,1263.9 C669.7,1252.6 673.1,1239.2 676.2,1226.8 C679.3,1214.4 682.1,1200.0 684.5,1189.7 C686.9,1179.4 688.4,1171.3 690.6,1165.0 C692.8,1158.7 695.4,1152.3 697.8,1151.6 C700.2,1150.9 702.8,1154.9 705.0,1160.9 C707.2,1166.9 709.1,1176.4 711.2,1187.7 C713.3,1199.0 715.5,1214.5 717.4,1228.9 C719.3,1243.3 720.9,1257.6 722.6,1274.2 C724.3,1290.8 726.4,1312.9 727.7,1328.8 C729.1,1344.7 728.8,1352.3 730.7,1369.8 C732.6,1387.3 736.3,1416.8 739.1,1434.0 C741.9,1451.2 744.7,1463.5 747.4,1473.0 C750.1,1482.5 752.5,1491.7 755.3,1491.2 C758.1,1490.7 761.3,1481.1 764.2,1470.2 C767.1,1459.3 769.4,1441.4 772.6,1425.6 C775.9,1409.8 780.0,1389.4 783.7,1375.4 C787.4,1361.5 791.2,1349.5 794.9,1341.9 C798.6,1334.3 799.1,1332.0 806.1,1330.0 C813.1,1328.0 829.8,1331.2 836.8,1330.0 C843.8,1328.8 844.3,1324.7 847.9,1323.0 C851.5,1321.3 855.2,1319.5 858.5,1320.0 C861.8,1320.5 864.1,1322.0 867.5,1326.0 C870.9,1330.0 874.9,1339.8 878.6,1344.0 C882.4,1348.2 886.3,1351.4 890.0,1351.0 C893.7,1350.6 897.3,1345.0 901.0,1341.5 C904.7,1338.0 906.5,1331.9 912.1,1330.0 C917.7,1328.1 927.9,1330.9 934.4,1330.0 C940.9,1329.1 946.8,1325.2 951.2,1324.6 C955.6,1324.0 959.4,1326.2 961.0,1326.5" stroke="#ff0000" stroke-width="2.7"/>
</g>
<text x="627.3" y="1434.8" font-size="28.5" text-anchor="middle" fill="#ff0000" >ν(C=C)</text>
<text x="629.0" y="1472.1" font-size="28.5" text-anchor="middle" fill="#ff0000" >1620-1680 cm<tspan font-size="16" dy="-14">-1</tspan></text>
<text x="0" y="0" font-size="22" fill="#ff0000" transform="translate(783.8,1657) rotate(-90)">1685</text>
</svg>
</body></html>
